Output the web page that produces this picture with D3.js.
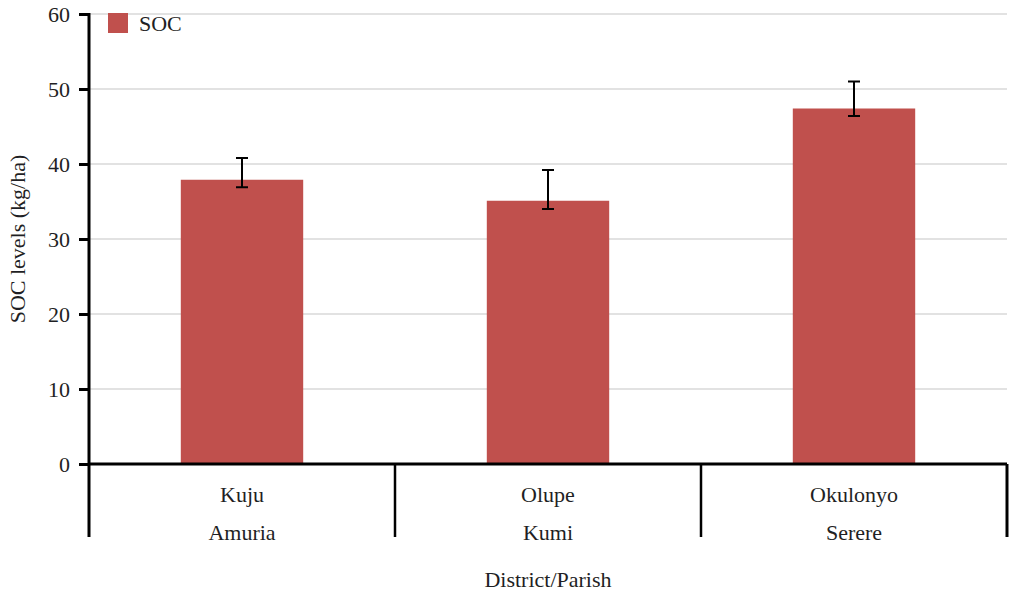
<!DOCTYPE html>
<html><head><meta charset="utf-8">
<script src="https://cdn.jsdelivr.net/npm/d3@7/dist/d3.min.js"></script>
<style>body{margin:0;background:#fff;} text{font-family:"Liberation Serif","Times New Roman",serif;fill:#1f1f24;}</style>
</head><body><svg id="c" width="1014" height="595"></svg>
<script>
const parishes = ["Kuju", "Olupe", "Okulonyo"];
const districts = ["Amuria", "Kumi", "Serere"];
const socMean = [37.9, 35.1, 47.4];
const socLow = [36.9, 34.0, 46.4];
const socHigh = [40.8, 39.2, 51.0];
const yTicks = [0, 10, 20, 30, 40, 50, 60];

const svg = d3.select("#c");
const L = 89, R = 1007, T = 14, B = 464, axisBottom = 537;
const FS = "22px";
const x = d3.scaleBand().domain(parishes).range([L, R]).paddingInner(0).paddingOuter(0);
const y = d3.scaleLinear().domain([0, 60]).range([B, T]);
const barW = x.bandwidth() * 0.4;

// gridlines
svg.append("g").selectAll("line").data(yTicks.filter(d => d > 0)).join("line")
  .attr("x1", L).attr("x2", R).attr("y1", d => y(d)).attr("y2", d => y(d))
  .attr("stroke", "#e2e2e2").attr("stroke-width", 2);

// bars
svg.append("g").selectAll("rect").data(parishes).join("rect")
  .attr("x", (d) => x(d) + (x.bandwidth() - barW) / 2)
  .attr("width", barW)
  .attr("y", (d, i) => y(socMean[i]))
  .attr("height", (d, i) => y(0) - y(socMean[i]))
  .attr("fill", "#c0504d");

// error bars
const eb = svg.append("g").attr("stroke", "#000").attr("stroke-width", 2);
parishes.forEach((p, i) => {
  const cx = x(p) + x.bandwidth() / 2;
  eb.append("line").attr("x1", cx).attr("x2", cx).attr("y1", y(socHigh[i])).attr("y2", y(socLow[i]));
  eb.append("line").attr("x1", cx - 6).attr("x2", cx + 6).attr("y1", y(socHigh[i])).attr("y2", y(socHigh[i]));
  eb.append("line").attr("x1", cx - 6).attr("x2", cx + 6).attr("y1", y(socLow[i])).attr("y2", y(socLow[i]));
});

// y axis
const ya = svg.append("g").attr("transform", `translate(${L},0)`)
  .call(d3.axisLeft(y).tickValues(yTicks).tickSize(10).tickPadding(9));
ya.attr("font-family", null).attr("font-size", null);
ya.select(".domain").remove();
ya.selectAll(".tick line").attr("stroke", "#000").attr("stroke-width", 3);
ya.selectAll(".tick text").style("font-size", FS).style("font-family", "Liberation Serif").attr("fill", "#1f1f24");
svg.append("line").attr("x1", L).attr("x2", L).attr("y1", T - 1).attr("y2", axisBottom)
  .attr("stroke", "#000").attr("stroke-width", 3);

// x axis line
svg.append("line").attr("x1", L).attr("x2", R).attr("y1", B).attr("y2", B)
  .attr("stroke", "#000").attr("stroke-width", 3);
// category separators
const seps = parishes.map(p => x(p) + x.bandwidth());
svg.append("g").selectAll("line").data(seps).join("line")
  .attr("x1", d => d).attr("x2", d => d).attr("y1", B).attr("y2", axisBottom)
  .attr("stroke", "#000").attr("stroke-width", d => d >= R - 1 ? 3 : 2.5);

// category labels
svg.append("g").selectAll("text").data(parishes).join("text")
  .attr("x", d => x(d) + x.bandwidth() / 2).attr("y", 502)
  .attr("text-anchor", "middle").style("font-size", FS).text(d => d);
svg.append("g").selectAll("text").data(districts).join("text")
  .attr("x", (d, i) => x(parishes[i]) + x.bandwidth() / 2).attr("y", 540)
  .attr("text-anchor", "middle").style("font-size", FS).text(d => d);

// axis titles
svg.append("text").attr("x", (L + R) / 2).attr("y", 587).attr("text-anchor", "middle")
  .style("font-size", FS).text("District/Parish");
svg.append("text").attr("transform", `translate(25,${(T + B) / 2}) rotate(-90)`)
  .attr("text-anchor", "middle").style("font-size", FS).text("SOC levels (kg/ha)");

// legend
svg.append("rect").attr("x", 108).attr("y", 13).attr("width", 20).attr("height", 20).attr("fill", "#c0504d");
svg.append("text").attr("x", 139).attr("y", 31).style("font-size", FS).text("SOC");
</script></body></html>
